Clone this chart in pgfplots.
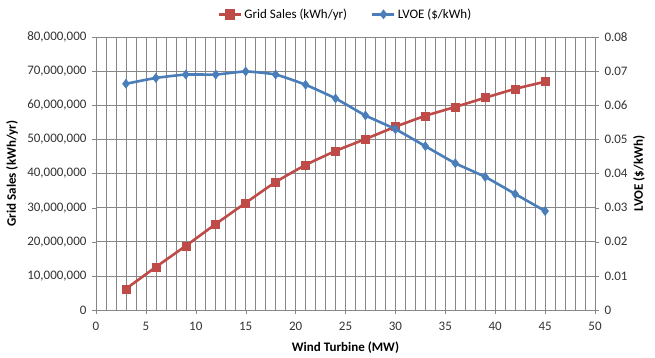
\documentclass[border=0pt]{standalone}
\usepackage{pgfplots}
\pgfplotsset{compat=1.18}
\usepackage{fontspec}
\setmainfont{Carlito}
\definecolor{gsred}{HTML}{BE4B48}
\definecolor{lvblue}{HTML}{4A7EBB}
\definecolor{gridc}{HTML}{868686}
\begin{document}
\begin{tikzpicture}[x=1pt,y=1pt]
\useasboundingbox (-96pt,-48pt) rectangle (559pt,310pt);
\pgfplotsset{
  common/.style={
    scale only axis, width=499pt, height=273pt,
    at={(0pt,0pt)}, anchor=south west,
    xmin=0, xmax=50, xtick={0,5,...,50},
    font=\fontsize{13}{15}\selectfont,
    /pgf/number format/assume math mode=true,
    axis line style={gridc},
    tick style={gridc},
    tick align=outside,
    major tick length=4pt,
    minor tick length=0pt,
    every tick label/.append style={text=black!80},
  }
}
\begin{axis}[common,
  ymin=0, ymax=80000000, ytick={0,10000000,...,80000000},
  scaled y ticks=false,
  /pgf/number format/fixed, /pgf/number format/1000 sep={,},
  xlabel={\textbf{Wind Turbine (MW)}},
  ylabel={\textbf{Grid Sales (kWh/yr)}},
  xticklabel style={yshift=-5pt},
  yticklabel style={xshift=-2pt},
  ylabel style={at={(axis description cs:0,0.5)}, anchor=center, yshift=84pt},
  xlabel style={at={(axis description cs:0.5,0)}, anchor=center, yshift=-38pt},
  axis y line*=left, axis x line*=bottom,
  grid=both, minor x tick num=4,
  major grid style={gridc, line width=0.6pt},
  minor grid style={gridc, line width=0.6pt},
]
\addplot[gsred, line width=2.6pt, smooth, tension=0.3, mark=square*, mark size=4pt, mark options={fill=gsred, line width=0.6pt}]
coordinates {(3,6200000) (6,12600000) (9,18800000) (12,25200000) (15,31400000) (18,37500000) (21,42500000) (24,46600000) (27,50100000) (30,53700000) (33,56900000) (36,59500000) (39,62200000) (42,64800000) (45,66900000)};
\end{axis}
\begin{axis}[common,
  ymin=0, ymax=0.08, ytick={0,0.01,...,0.08},
  scaled y ticks=false,
  /pgf/number format/fixed, /pgf/number format/precision=2,
  axis y line*=right, axis x line=none,
  yticklabel style={xshift=2pt},
  ylabel={\textbf{LVOE (\$/kWh)}},
  ylabel style={at={(axis description cs:1,0.5)}, anchor=center, yshift=-44pt},
  legend style={at={(0.5,1)}, anchor=south, yshift=13pt, draw=none, fill=none,
    legend columns=2, font=\fontsize{13}{15}\selectfont,
    /tikz/every even column/.append style={column sep=22pt}},
  legend cell align=left,
  legend image code/.code={\draw[#1, line width=2.6pt, mark=none] (0pt,0pt) -- (22pt,0pt); \path[#1] plot coordinates {(11pt,0pt)};},
]
\addlegendimage{gsred, line width=2.6pt, mark=square*, mark size=4pt, mark options={fill=gsred}}
\addlegendentry{Grid Sales (kWh/yr)}
\addplot[lvblue, line width=2.6pt, smooth, tension=0.3, mark=diamond*, mark size=4.5pt, mark options={fill=lvblue, line width=0.6pt}]
coordinates {(3,0.0663) (6,0.068) (9,0.069) (12,0.069) (15,0.0699) (18,0.069) (21,0.066) (24,0.062) (27,0.057) (30,0.053) (33,0.048) (36,0.043) (39,0.039) (42,0.034) (45,0.029)};
\addlegendentry{LVOE (\$/kWh)}
\end{axis}
\end{tikzpicture}
\end{document}
